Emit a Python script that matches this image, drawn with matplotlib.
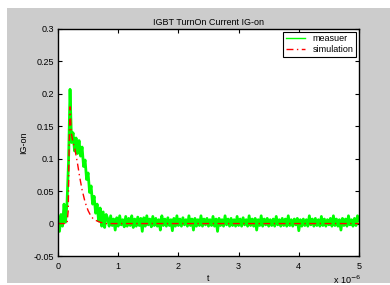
import numpy as np
import matplotlib
matplotlib.use("Agg")
from matplotlib import pyplot as plt
from matplotlib.patches import Rectangle

plt.rcParams["font.family"] = ["Liberation Sans", "DejaVu Sans"]

# Measured current, sampled every 0.025 us from 0 to 5 us
t_meas = np.arange(201) * 0.025
ig_meas = [
    0.010, -0.012, 0.014, -0.004, 0.030, 0.002, 0.032, 0.095, 0.207, 0.125,
    0.140, 0.112, 0.132, 0.108, 0.128, 0.104, 0.118, 0.088, 0.098, 0.068,
    0.078, 0.048, 0.058, 0.030, 0.042, 0.016, 0.030, 0.004, 0.024, -0.004,
    0.018, -0.006, 0.014,
    0.008, -0.004, 0.012, -0.003, 0.007, -0.010, 0.009, -0.004, 0.012, -0.002, 0.006, -0.005,
    0.011, -0.004, 0.008, -0.003, 0.012, -0.006, 0.007, -0.004, 0.010, -0.003, 0.008, -0.012,
    0.009, -0.004, 0.012, -0.002, 0.007, -0.005, 0.011, -0.003, 0.008, -0.004, 0.006, -0.010,
    0.012, -0.003, 0.007, -0.004, 0.009, -0.003, 0.006, -0.011, 0.008, -0.004, 0.012, -0.003,
    0.007, -0.004, 0.009, -0.002, 0.006, -0.004, 0.012, -0.003, 0.007, -0.010, 0.008, -0.004,
    0.006, -0.003, 0.012, -0.004, 0.007, -0.002, 0.008, -0.004, 0.006, -0.003, 0.011, -0.004,
    0.007, -0.012, 0.008, -0.003, 0.006, -0.004, 0.012, -0.002, 0.007, -0.004, 0.008, -0.003,
    0.006, -0.004, 0.011, -0.003, 0.007, -0.004, 0.009, -0.002, 0.006, -0.004, 0.012, -0.003,
    0.007, -0.004, 0.008, -0.010, 0.006, -0.003, 0.012, -0.004, 0.007, -0.002, 0.008, -0.004,
    0.006, -0.003, 0.007, -0.004, 0.011, -0.002, 0.006, -0.004, 0.008, -0.003, 0.007, -0.004,
    0.012, -0.003, 0.006, -0.004, 0.007, -0.002, 0.008, -0.011, 0.006, -0.004, 0.007, -0.003,
    0.006, -0.004, 0.012, -0.002, 0.007, -0.004, 0.008, -0.003, 0.006, -0.004, 0.011, -0.003,
    0.007, -0.004, 0.006, -0.002, 0.008, -0.004, 0.012, -0.003, 0.007, -0.004, 0.006, -0.010,
    0.008, -0.003, 0.007, -0.004, 0.012, -0.002, 0.006, -0.004, 0.008, -0.003, 0.012, 0.004,
]

# Simulated current (us, A)
t_sim = [0, 0.15, 0.17, 0.185, 0.2, 0.21, 0.22, 0.25, 0.28, 0.32, 0.36,
         0.40, 0.45, 0.5, 0.55, 0.6, 0.7, 0.8, 1.0, 5.0]
ig_sim = [0, 0, 0.02, 0.12, 0.18, 0.16, 0.14, 0.125, 0.115, 0.095, 0.072,
          0.052, 0.033, 0.02, 0.011, 0.006, 0.002, 0, 0, 0]

xticks = [0, 1, 2, 3, 4, 5]
yticks = [-0.05, 0, 0.05, 0.1, 0.15, 0.2, 0.25, 0.3]
ylabels = ["-0.05", "0", "0.05", "0.1", "0.15", "0.2", "0.25", "0.3"]

fig = plt.figure(figsize=(3.9, 2.85), dpi=100, facecolor="white")
# grey window area (white strip at top and left like the original screenshot)
fig.patches.append(Rectangle((7 / 390, 2 / 285), 1, 1 - 10 / 285, transform=fig.transFigure,
                             facecolor="#cccccc", edgecolor="none", zorder=-10))
ax = fig.add_axes([58 / 390, 29 / 285, 301 / 390, 227 / 285])
ax.plot(t_meas, ig_meas, color="#00ff00", lw=2, label="measuer")
ax.plot(t_sim, ig_sim, color="red", lw=1, dashes=(5, 2.5, 1, 2.5), label="simulation")

ax.set_xlim(0, 5)
ax.set_ylim(-0.05, 0.3)
ax.set_xticks(xticks)
ax.set_xticklabels([str(x) for x in xticks])
ax.set_yticks(yticks)
ax.set_yticklabels(ylabels)
ax.tick_params(direction="in", length=3, width=0.8, labelsize=6.5, top=True, right=True)
ax.tick_params(axis="x", pad=4.5)
ax.tick_params(axis="y", pad=3)
for s in ax.spines.values():
    s.set_linewidth(1)

ax.set_title("IGBT TurnOn Current IG-on", fontsize=6.5, pad=3)
ax.set_xlabel("t", fontsize=6.5, labelpad=2)
ax.set_ylabel("IG-on", fontsize=6.5, labelpad=4)
ax.text(0.96, -0.123, "x 10$^{-6}$", transform=ax.transAxes, fontsize=6.5,
        ha="center", va="baseline")

leg = ax.legend(loc="upper right", fontsize=6.5, fancybox=False, framealpha=1,
                edgecolor="black", handlelength=2.2, borderaxespad=0.3,
                labelspacing=0.2, borderpad=0.3)
leg.get_frame().set_linewidth(0.8)
leg.get_lines()[0].set_linewidth(1)

fig.savefig("out.png", dpi=100, facecolor=fig.get_facecolor())
